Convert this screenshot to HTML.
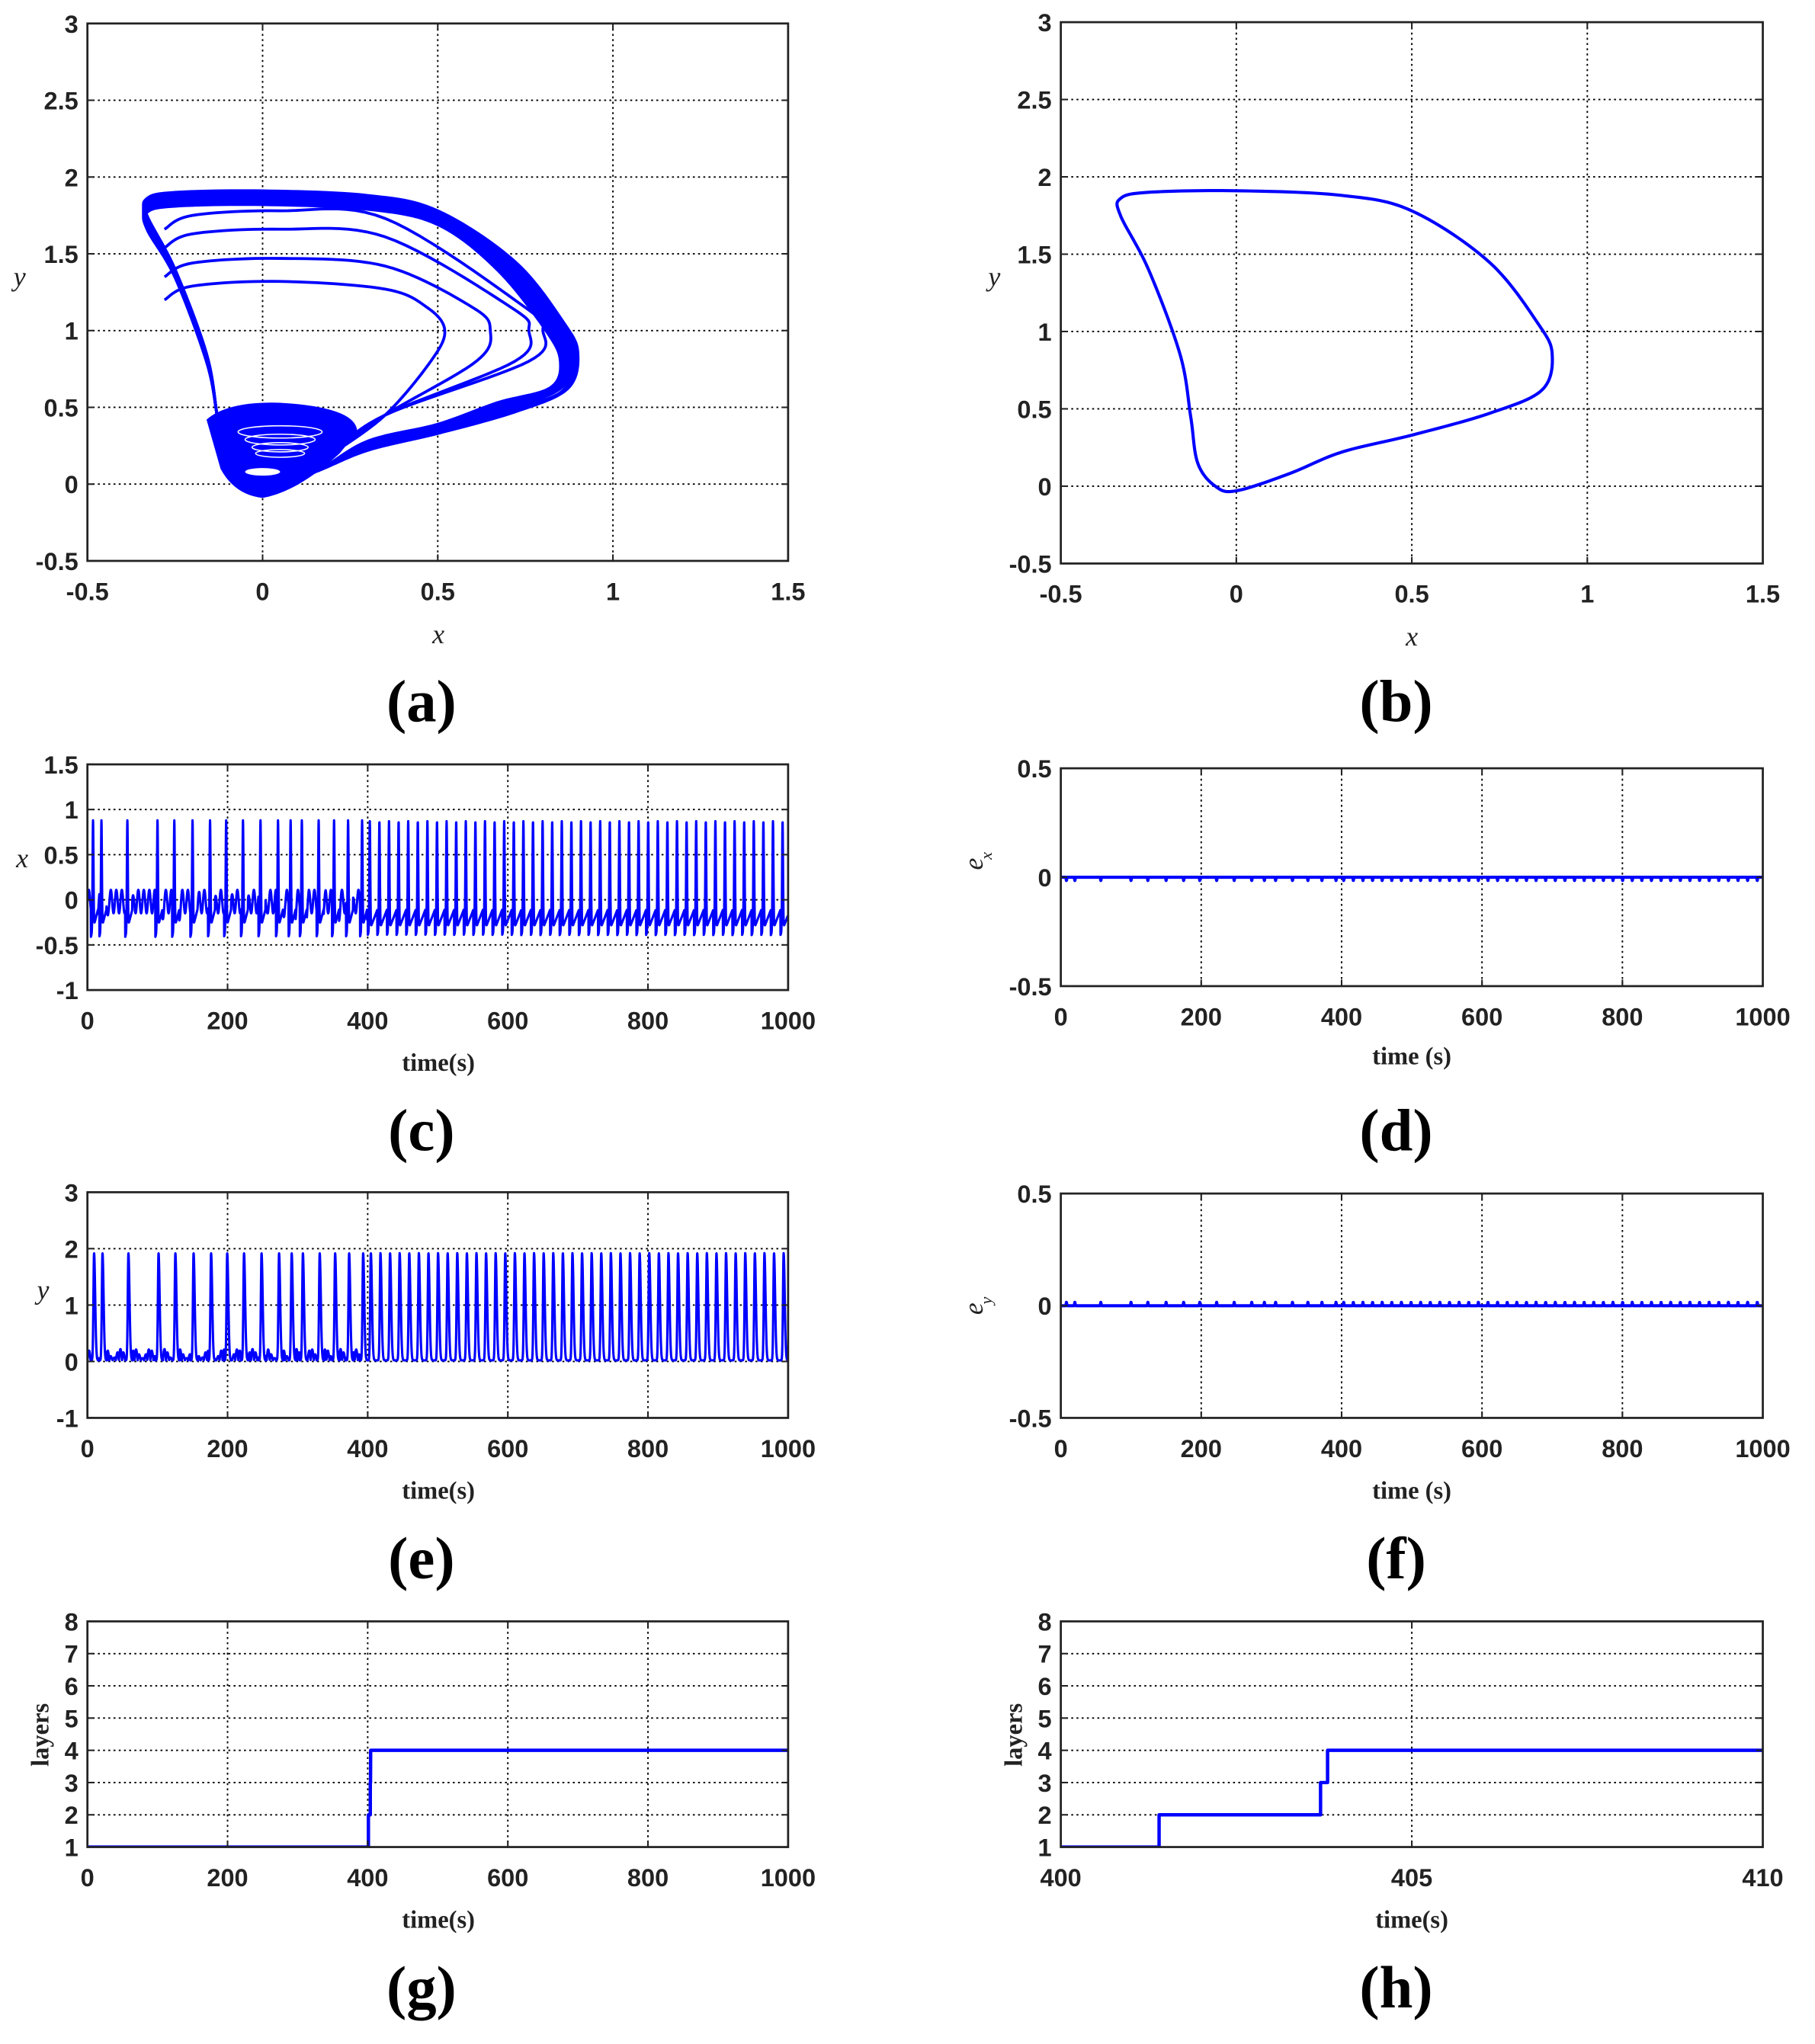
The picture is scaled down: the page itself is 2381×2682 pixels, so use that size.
<!DOCTYPE html>
<html><head><meta charset="utf-8">
<style>
html,body{margin:0;padding:0;background:#fff;}
svg{display:block;}
.t{font-family:"Liberation Sans",sans-serif;font-weight:bold;font-size:19px;fill:#222;}
.l{font-family:"Liberation Serif",serif;font-weight:bold;font-size:19px;fill:#222;}
.i{font-family:"Liberation Serif",serif;font-style:italic;font-size:21px;fill:#222;}
.c{font-family:"Liberation Serif",serif;font-weight:bold;font-size:46px;fill:#000;}
</style></head>
<body>
<svg id="s" width="2381" height="2682" viewBox="0 0 1391 1567" preserveAspectRatio="none" xmlns="http://www.w3.org/2000/svg">
<rect width="1391" height="1567" fill="#fff"/>
</svg>
<script>
const NS="http://www.w3.org/2000/svg";const S=document.getElementById('s');
function sq(v){return v*v;}
function add(tag,a,txt,par){const e=document.createElementNS(NS,tag);for(const k in a)e.setAttribute(k,a[k]);if(txt!==undefined)e.textContent=txt;(par||S).appendChild(e);return e;}
let cid=0;
function panel(o){
 const X=v=>o.x0+(v-o.xmin)/(o.xmax-o.xmin)*(o.x1-o.x0);
 const Y=v=>o.y1-(v-o.ymin)/(o.ymax-o.ymin)*(o.y1-o.y0);
 o.X=X;o.Y=Y;
 o.xt.forEach(v=>{const x=X(v);if(x>o.x0+1&&x<o.x1-1)add('line',{x1:x,y1:o.y0,x2:x,y2:o.y1,stroke:'#000','stroke-width':1.1,'stroke-dasharray':'1.5,2.5'});});
 o.yt.forEach(v=>{const y=Y(v);if(y>o.y0+1&&y<o.y1-1)add('line',{x1:o.x0,y1:y,x2:o.x1,y2:y,stroke:'#000','stroke-width':1.1,'stroke-dasharray':'1.5,2.5'});});
 cid++;const cp=add('clipPath',{id:'c'+cid});add('rect',{x:o.x0,y:o.y0,width:o.x1-o.x0,height:o.y1-o.y0},undefined,cp);
 o.g=add('g',{'clip-path':'url(#c'+cid+')'});
 o.drawData(o);
 add('rect',{x:o.x0,y:o.y0,width:o.x1-o.x0,height:o.y1-o.y0,fill:'none',stroke:'#222','stroke-width':1.6});
 o.xt.forEach(v=>{const x=X(v);add('line',{x1:x,y1:o.y1,x2:x,y2:o.y1-5,stroke:'#222','stroke-width':1.2});add('line',{x1:x,y1:o.y0,x2:x,y2:o.y0+5,stroke:'#222','stroke-width':1.2});
  add('text',{x:x,y:o.y1+30,'text-anchor':'middle',class:'t'},String(v));});
 o.yt.forEach(v=>{const y=Y(v);add('line',{x1:o.x0,y1:y,x2:o.x0+5,y2:y,stroke:'#222','stroke-width':1.2});add('line',{x1:o.x1,y1:y,x2:o.x1-5,y2:y,stroke:'#222','stroke-width':1.2});
  add('text',{x:o.x0-7,y:y+7,'text-anchor':'end',class:'t'},String(v));});
}
function poly(o,pts,w){let d='';pts.forEach((p,i)=>{d+=(i?'L':'M')+o.X(p[0]).toFixed(2)+' '+o.Y(p[1]).toFixed(2);});add('path',{d:d,fill:'none',stroke:'#0000ff','stroke-width':w||2,'stroke-linejoin':'round'},undefined,o.g);}
function smooth(pts,n){const out=[];const N=pts.length;for(let i=0;i<N;i++){const p0=pts[(i-1+N)%N],p1=pts[i],p2=pts[(i+1)%N],p3=pts[(i+2)%N];for(let k=0;k<n;k++){const t=k/n,t2=t*t,t3=t2*t;out.push([0.5*((2*p1[0])+(-p0[0]+p2[0])*t+(2*p0[0]-5*p1[0]+4*p2[0]-p3[0])*t2+(-p0[0]+3*p1[0]-3*p2[0]+p3[0])*t3),0.5*((2*p1[1])+(-p0[1]+p2[1])*t+(2*p0[1]-5*p1[1]+4*p2[1]-p3[1])*t2+(-p0[1]+3*p1[1]-3*p2[1]+p3[1])*t3)]);}}out.push(out[0]);return out;}
function openSmooth(pts,n){const N=pts.length;const out=[];for(let i=0;i<N-1;i++){const p0=pts[Math.max(i-1,0)],p1=pts[i],p2=pts[i+1],p3=pts[Math.min(i+2,N-1)];for(let k=0;k<n;k++){const t=k/n,t2=t*t,t3=t2*t;out.push([0.5*((2*p1[0])+(-p0[0]+p2[0])*t+(2*p0[0]-5*p1[0]+4*p2[0]-p3[0])*t2+(-p0[0]+3*p1[0]-3*p2[0]+p3[0])*t3),0.5*((2*p1[1])+(-p0[1]+p2[1])*t+(2*p0[1]-5*p1[1]+4*p2[1]-p3[1])*t2+(-p0[1]+3*p1[1]-3*p2[1]+p3[1])*t3)]);}}out.push(pts[N-1]);return out;}
const cyc=[[0,-0.03],[0.15,0.08],[0.3,0.22],[0.5,0.33],[0.72,0.47],[0.87,0.62],[0.9,0.85],[0.86,1.05],[0.72,1.45],[0.5,1.78],[0.3,1.88],[0,1.91],[-0.25,1.9],[-0.33,1.86],[-0.33,1.75],[-0.25,1.4],[-0.16,0.85],[-0.13,0.45],[-0.11,0.15],[-0.06,0.0]];
// (a)
panel({x0:67,x1:604,y0:18,y1:430,xmin:-0.5,xmax:1.5,ymin:-0.5,ymax:3,xt:[-0.5,0,0.5,1,1.5],yt:[-0.5,0,0.5,1,1.5,2,2.5,3],drawData:o=>{
 for(let k=0;k<16;k++){const s=k/15;const pts=cyc.map(p=>{let x=p[0],y=p[1];if(y>0.6)y=y-0.09*s*(y>1.5?1:0.6);if(x>0.5)x=x-0.05*s;if(y<0.6&&x>0.2)y=y+0.06*s;return [x,y];});poly(o,smooth(pts,12),2.2);}
 const inner=[[0.52,1.32],[0.65,1.47],[0.76,1.66],[0.8,1.78]];
 inner.forEach(a=>{const xm=a[0],yt=a[1];const pts=[[0.2,0.2],[0.35,0.45],[xm-0.04,0.8],[xm,1.0],[xm-0.05,1.15],[0.35,yt-0.05],[0.05,yt],[-0.2,yt-0.03],[-0.28,yt-0.12]];poly(o,openSmooth(pts,12),2.2);});
 add('path',{d:'M'+o.X(-0.16)+' '+o.Y(0.42)+' Q'+o.X(-0.1)+' '+o.Y(0.54)+' '+o.X(0.05)+' '+o.Y(0.53)+' Q'+o.X(0.27)+' '+o.Y(0.5)+' '+o.X(0.27)+' '+o.Y(0.34)+' L'+o.X(0.22)+' '+o.Y(0.2)+' Q'+o.X(0.1)+' '+o.Y(-0.05)+' '+o.X(0)+' '+o.Y(-0.09)+' Q'+o.X(-0.08)+' '+o.Y(-0.07)+' '+o.X(-0.12)+' '+o.Y(0.1)+' Z',fill:'#0000ff'},undefined,o.g);
 [[0.05,0.34,0.12,0.04],[0.05,0.29,0.1,0.035],[0.05,0.24,0.08,0.03],[0.05,0.2,0.07,0.025]].forEach(e=>add('ellipse',{cx:o.X(e[0]),cy:o.Y(e[1]),rx:e[2]*268.5,ry:e[3]*117.7,fill:'none',stroke:'#fff','stroke-width':0.9},undefined,o.g));
 add('ellipse',{cx:o.X(0),cy:o.Y(0.08),rx:0.05*268.5,ry:0.025*117.7,fill:'#fff'},undefined,o.g);
}});
add('text',{x:336,y:493,'text-anchor':'middle',class:'i'},'x');add('text',{x:15,y:219,'text-anchor':'middle',class:'i'},'y');
add('text',{x:323,y:553,'text-anchor':'middle',class:'c'},'(a)');
// (b)
panel({x0:813,x1:1351,y0:17,y1:432,xmin:-0.5,xmax:1.5,ymin:-0.5,ymax:3,xt:[-0.5,0,0.5,1,1.5],yt:[-0.5,0,0.5,1,1.5,2,2.5,3],drawData:o=>{poly(o,smooth(cyc,14),2.4);}});
add('text',{x:1082,y:495,'text-anchor':'middle',class:'i'},'x');add('text',{x:762,y:219,'text-anchor':'middle',class:'i'},'y');
add('text',{x:1070,y:553,'text-anchor':'middle',class:'c'},'(b)');
// series
const pre=[8,20,57,100,124,150,175,198,222,247,272,290,306,330,352,372,392];
const post=[];for(let t=403;t<1005;t+=13.7)post.push(t);
const spikes=pre.concat(post);
function xs(t){let last=-20;for(const s of spikes)if(s<=t+3)last=s;let d=t-last;let v;
 if(t<400){v=-0.32+Math.min(d,10)*0.03+0.13*Math.sin(t*0.8)*(d>7?1:0);}else{const T=13.7;v=-0.33+0.28*Math.min(d/T,1);}
 for(const s of spikes){const e=t-s;if(Math.abs(e)<4)v+=1.2*Math.exp(-sq(e/0.9));}return v;}
function ys(t){let last=-20;for(const s of spikes)if(s<=t+3)last=s;let d=t-last;let v=0.02;
 if(t<400&&d>8)v+=0.2*Math.abs(Math.sin(t*0.7))*(0.6+0.4*Math.sin(t*0.3));
 for(const s of spikes){const e=t-s;if(e>-2&&e<7)v+=1.9*Math.exp(-sq((e-1.5)/(e<1.5?1.3:2.2)));}
 return Math.min(v,1.96);}
function series(f){const p=[];for(let t=0;t<=1000;t+=0.2)p.push([t,f(t)]);return p;}
panel({x0:67,x1:604,y0:586,y1:759,xmin:0,xmax:1000,ymin:-1,ymax:1.5,xt:[0,200,400,600,800,1000],yt:[-1,-0.5,0,0.5,1,1.5],drawData:o=>poly(o,series(xs),1.8)});
add('text',{x:336,y:821,'text-anchor':'middle',class:'l'},'time(s)');add('text',{x:17,y:665,'text-anchor':'middle',class:'i'},'x');
add('text',{x:323,y:882,'text-anchor':'middle',class:'c'},'(c)');
function errser(sgn){const p=[];for(let t=0;t<=1000;t+=0.2){let v=0;for(const s of spikes){const e=t-s;if(Math.abs(e)<1.5)v+=sgn*0.015*Math.exp(-sq(e/0.5));}p.push([t,v]);}return p;}
panel({x0:813,x1:1351,y0:589,y1:756,xmin:0,xmax:1000,ymin:-0.5,ymax:0.5,xt:[0,200,400,600,800,1000],yt:[-0.5,0,0.5],drawData:o=>poly(o,errser(-1),2.4)});
add('text',{x:1082,y:816,'text-anchor':'middle',class:'l'},'time (s)');
add('text',{x:0,y:0,class:'i',transform:'translate(753,667) rotate(-90)'},'e');add('text',{x:0,y:0,class:'i',style:'font-size:13px',transform:'translate(760,659) rotate(-90)'},'x');
add('text',{x:1070,y:882,'text-anchor':'middle',class:'c'},'(d)');
panel({x0:67,x1:604,y0:914,y1:1087,xmin:0,xmax:1000,ymin:-1,ymax:3,xt:[0,200,400,600,800,1000],yt:[-1,0,1,2,3],drawData:o=>poly(o,series(ys),1.8)});
add('text',{x:336,y:1149,'text-anchor':'middle',class:'l'},'time(s)');add('text',{x:33,y:996,'text-anchor':'middle',class:'i'},'y');
add('text',{x:323,y:1210,'text-anchor':'middle',class:'c'},'(e)');
panel({x0:813,x1:1351,y0:915,y1:1087,xmin:0,xmax:1000,ymin:-0.5,ymax:0.5,xt:[0,200,400,600,800,1000],yt:[-0.5,0,0.5],drawData:o=>poly(o,errser(1),2.4)});
add('text',{x:1082,y:1149,'text-anchor':'middle',class:'l'},'time (s)');
add('text',{x:0,y:0,class:'i',transform:'translate(753,1008) rotate(-90)'},'e');add('text',{x:0,y:0,class:'i',style:'font-size:13px',transform:'translate(760,1000) rotate(-90)'},'y');
add('text',{x:1070,y:1210,'text-anchor':'middle',class:'c'},'(f)');
panel({x0:67,x1:604,y0:1243,y1:1416,xmin:0,xmax:1000,ymin:1,ymax:8,xt:[0,200,400,600,800,1000],yt:[1,2,3,4,5,6,7,8],drawData:o=>poly(o,[[0,1],[401,1],[401,2],[403.7,2],[403.7,3],[404,3],[404.2,4],[1000,4]],2.6)});
add('text',{x:336,y:1478,'text-anchor':'middle',class:'l'},'time(s)');
add('text',{x:0,y:0,class:'l','text-anchor':'middle',transform:'translate(37,1330) rotate(-90)'},'layers');
add('text',{x:323,y:1539,'text-anchor':'middle',class:'c'},'(g)');
panel({x0:813,x1:1351,y0:1243,y1:1416,xmin:400,xmax:410,ymin:1,ymax:8,xt:[400,405,410],yt:[1,2,3,4,5,6,7,8],drawData:o=>poly(o,[[400,1],[401.4,1],[401.4,2],[403.7,2],[403.7,3],[403.8,3],[403.8,4],[410,4]],2.6)});
add('text',{x:1082,y:1478,'text-anchor':'middle',class:'l'},'time(s)');
add('text',{x:0,y:0,class:'l','text-anchor':'middle',transform:'translate(783,1330) rotate(-90)'},'layers');
add('text',{x:1070,y:1539,'text-anchor':'middle',class:'c'},'(h)');
</script>
</body></html>
